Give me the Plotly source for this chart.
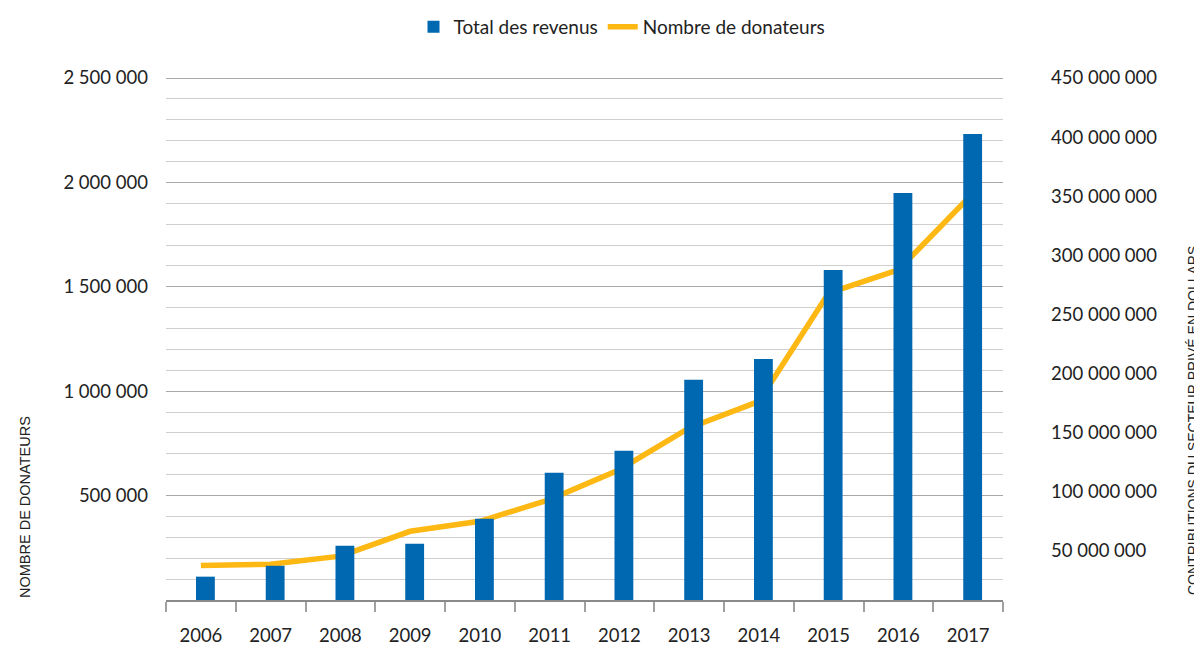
import plotly.graph_objects as go

years = ["2006", "2007", "2008", "2009", "2010", "2011", "2012", "2013", "2014", "2015", "2016", "2017"]
revenus = [28.2e6, 37.4e6, 54.4e6, 56.0e6, 77.2e6, 116.1e6, 134.7e6, 194.7e6, 212.4e6, 287.7e6, 352.8e6, 402.7e6]
donateurs = [165000, 171000, 210000, 329000, 377000, 481000, 624000, 824000, 951000, 1470000, 1581000, 1924000]

left_ticks = [500000, 1000000, 1500000, 2000000, 2500000]
left_labels = ["500 000", "1 000 000", "1 500 000", "2 000 000", "2 500 000"]
right_ticks = [50e6, 100e6, 150e6, 200e6, 250e6, 300e6, 350e6, 400e6, 450e6]
right_labels = ["50 000 000", "100 000 000", "150 000 000", "200 000 000", "250 000 000",
                "300 000 000", "350 000 000", "400 000 000", "450 000 000"]

FONT = "Lato"
TITLE_FONT = "Liberation Sans"
TXT = "#222222"
TS = 18.5

# the page body adds an 8px margin, so the figure is sized/offset to compensate
W, H = 1194, 638

fig = go.Figure()
fig.add_trace(go.Bar(
    x=years, y=revenus, name="Total des revenus", yaxis="y2",
    marker=dict(color="#0067B1", line=dict(width=0)),
    width=0.27, offset=-0.07,
))
fig.add_trace(go.Scatter(
    x=years, y=donateurs, name="Nombre de donateurs", mode="lines",
    line=dict(color="#FDB813", width=5.5),
))

fig.update_layout(
    width=W, height=H,
    margin=dict(l=158, r=199, t=65, b=46, autoexpand=False),
    plot_bgcolor="white", paper_bgcolor="white",
    font=dict(family=FONT, size=TS, color=TXT),
    showlegend=True,
    legend=dict(orientation="h", xref="container", yref="container",
                x=614 / W, xanchor="center", y=1.0, yanchor="top",
                font=dict(size=19, color=TXT), traceorder="normal"),
    xaxis=dict(
        type="category", showgrid=False, showline=True, linecolor="#8a8a8a", linewidth=2,
        ticks="outside", tickson="boundaries", ticklen=10, tickwidth=2, tickcolor="#a0a0a0",
        ticklabelstandoff=18, tickfont=dict(size=TS, color=TXT), automargin=False,
    ),
    yaxis=dict(
        range=[0, 2523946], tickvals=left_ticks, ticktext=left_labels,
        showgrid=True, gridcolor="#a8a8a8", gridwidth=1.3,
        minor=dict(dtick=100000, tick0=0, showgrid=True, gridcolor="#cfcfcf", gridwidth=1.3),
        zeroline=False, showline=False, ticks="", ticklabelstandoff=17,
        tickfont=dict(size=TS, color=TXT), automargin=False,
    ),
    yaxis2=dict(
        overlaying="y", side="right", range=[8.46e6, 454.23e6],
        tickvals=right_ticks, ticktext=right_labels, showgrid=False, zeroline=False,
        showline=False, ticks="", ticklabelstandoff=47,
        tickfont=dict(size=TS, color=TXT), automargin=False,
    ),
    bargap=0.7,
)

PH = 527  # plot height in px
fig.add_annotation(
    text="NOMBRE DE DONATEURS", textangle=-90, showarrow=False,
    xref="paper", yref="paper", x=(25 - 166) / 837, y=(600 - 507) / PH,
    xanchor="center", yanchor="middle", font=dict(family=TITLE_FONT, size=14.5, color=TXT),
)
fig.add_annotation(
    text="CONTRIBUTIONS DU SECTEUR PRIVÉ EN DOLLARS", textangle=-90, showarrow=False,
    xref="paper", yref="paper", x=(1193 - 166) / 837, y=(600 - 421) / PH,
    xanchor="center", yanchor="middle", font=dict(family=TITLE_FONT, size=14, color=TXT),
)

fig.write_html("out.html")
